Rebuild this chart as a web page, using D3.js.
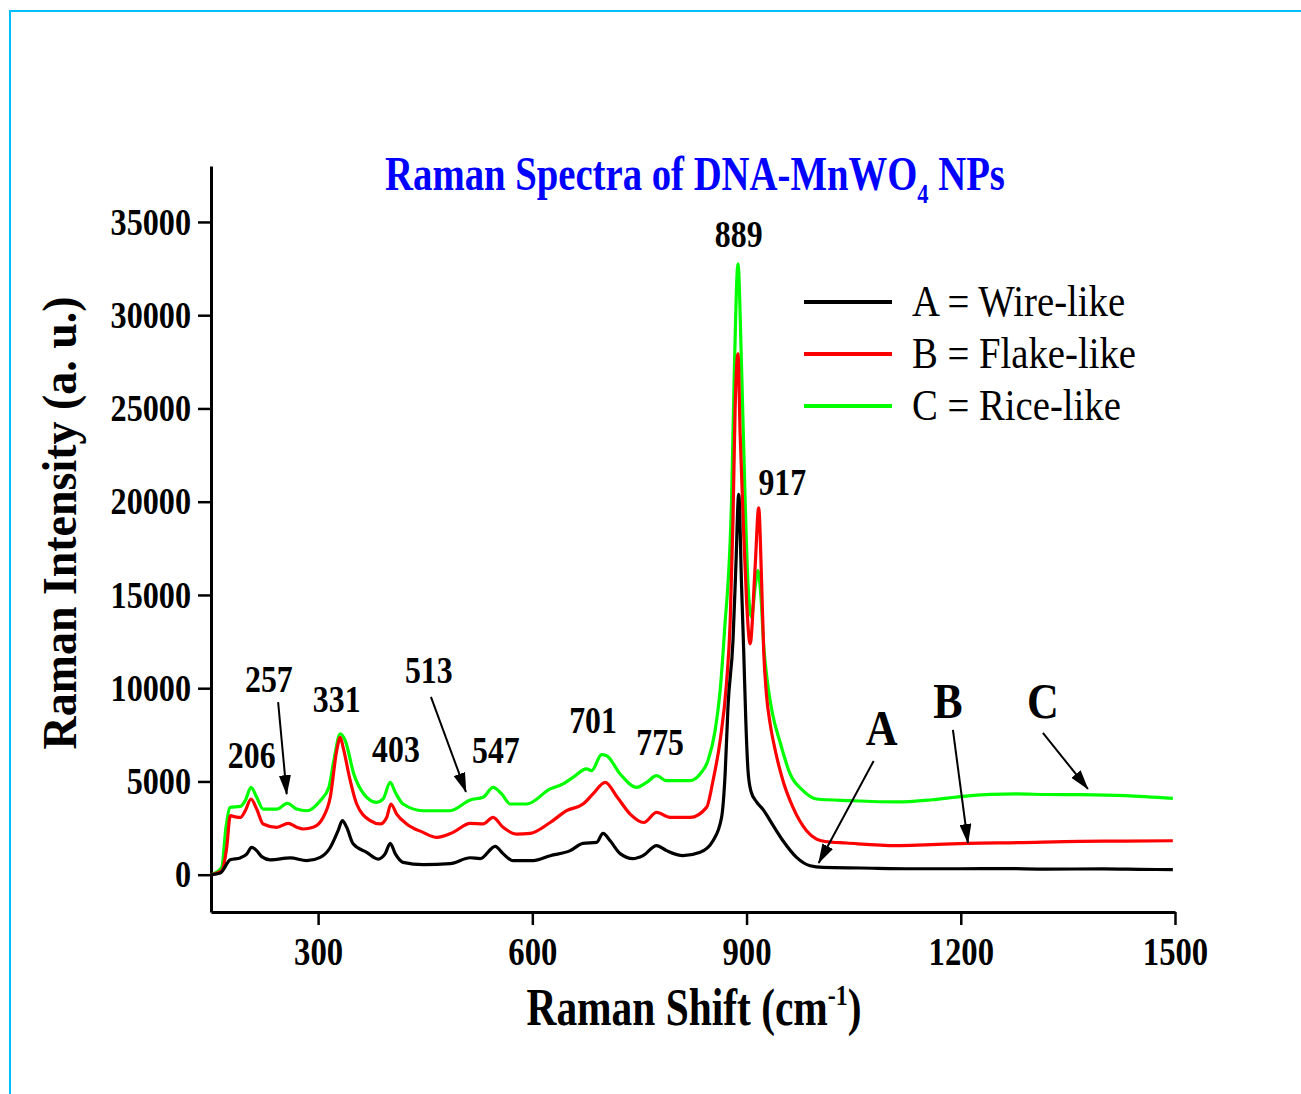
<!DOCTYPE html>
<html>
<meta charset="utf-8">
<head>
  <title>Raman Spectra of DNA-MnWO4 NPs</title>
</head>

<style>
body {
  margin: 0;
  background: #fff;
}
text {
  font-family: "Liberation Serif", "Times New Roman", serif;
  fill: #000;
}
.axis path, .axis line {
  stroke: #000;
}
</style>

<body>
  <svg width="1301" height="1094"></svg>

  <script src="https://cdnjs.cloudflare.com/ajax/libs/d3/7.8.5/d3.min.js"></script>

  <script>
// spectra: [Raman shift (cm-1), intensity (a.u.)]
var specA = [[150,0],[163,90],[177,800],[191,900],[200,1100],[207,1460],[214,1290],[221,970],[233,800],[261,900],[284,750],
  [303,930],[317,1460],[328,2360],[334,2900],[340,2540],[349,1660],[368,1200],[384,840],[394,1130],[401,1680],[408,1130],
  [419,660],[447,540],[485,590],[513,910],[527,860],[548,1520],[559,1130],[573,750],[601,750],[625,1020],[653,1290],
  [671,1680],[690,1730],[699,2220],[709,1820],[723,1130],[741,860],[755,1020],[774,1560],[788,1290],[811,1020],[835,1200],
  [853,1820],[865,3070],[870,5400],[874,9000],[881,12550],[885,16500],[889,20400],[893,15500],[896,12000],[899,8200],
  [902,5600],[906,4500],[914,3900],[924,3450],[933,2900],[951,1820],[970,930],[989,480],[1007,390],[1060,360],[1133,320],
  [1200,320],[1260,330],[1320,300],[1400,310],[1450,290],[1497,270]]

var specB = [[150,0],[165,210],[172,1460],[177,3170],[184,3100],[191,3070],[198,3430],[206,4060],[214,3520],[223,2720],
  [242,2540],[258,2750],[270,2550],[279,2450],[293,2540],[307,3070],[317,4150],[326,6650],[331,7370],[335,6830],[345,5040],
  [354,3790],[373,2900],[387,2720],[396,3070],[402,3790],[410,3250],[424,2720],[447,2270],[466,2000],[489,2270],[513,2750],
  [531,2720],[545,3070],[559,2540],[578,2180],[597,2220],[625,2800],[648,3430],[671,3790],[685,4330],[702,4950],[719,4150],
  [737,3250],[756,2800],[774,3340],[793,3070],[821,3070],[844,3610],[853,5040],[863,7190],[872,10300],[877,13500],
  [881,19000],[884,25000],[888,27930],[891,23650],[896,18300],[900,14700],[905,12380],[912,16490],[917,19670],[921,15800],
  [924,12000],[928,9600],[933,8100],[940,6700],[951,5040],[965,3610],[984,2360],[998,1910],[1010,1780],[1040,1700],
  [1110,1560],[1150,1600],[1210,1680],[1280,1720],[1367,1790],[1430,1800],[1497,1820]]

var specC = [[150,0],[165,390],[171,2540],[177,3610],[191,3660],[198,3970],[206,4680],[214,4150],[223,3520],[242,3520],
  [257,3830],[270,3520],[284,3430],[303,3970],[315,4680],[322,6120],[331,7550],[338,7190],[350,5400],[364,4330],[382,3880],
  [391,4060],[401,4950],[408,4420],[419,3790],[447,3430],[485,3430],[513,4010],[531,4150],[545,4680],[557,4330],[569,3790],
  [592,3790],[625,4600],[643,4870],[657,5220],[676,5670],[683,5580],[697,6440],[704,6380],[723,5400],[746,4680],[760,4950],
  [774,5310],[788,5040],[821,5040],[835,5400],[846,6120],[856,7730],[863,9870],[869,13000],[879,20070],[883,27220],
  [888,32760],[893,27220],[898,20070],[902,15600],[907,13800],[912,15410],[916,16310],[920,15000],[924,12300],[929,10400],
  [936,8700],[947,7100],[961,5400],[979,4510],[998,4060],[1045,3970],[1110,3900],[1160,4020],[1203,4200],[1278,4330],
  [1320,4300],[1367,4290],[1430,4240],[1497,4090]]

var seriesNames = ['A = Wire-like', 'B = Flake-like', 'C = Rice-like']
var seriesColors = ['#000000', '#ff0000', '#00ff00']

var xTicks = [300, 600, 900, 1200, 1500]
var xMinor = [150, 450, 750, 1050, 1350]
var yTicks = [0, 5000, 10000, 15000, 20000, 25000, 30000, 35000]
var yMinor = [2500, 7500, 12500, 17500, 22500, 27500, 32500, 37500]

// peak labels [text, shift, intensity of baseline]
var peakLabels = [['206',207,5720],['257',231,9800],['331',326,8720],['403',409,6040],['513',455,10280],
  ['547',549,5990],['701',685,7600],['775',779,6420],['889',889,33660],['917',950,20360]]
// curve letters and their arrows [text, shift, intensity]
var curveLetters = [['A',1089,6960],['B',1182,8400],['C',1315,8400]]
var arrows = [[244,9250,256,4320],[458,9530,507,4440],[1078,6100,1001,630],[1189,7760,1210,1700],[1315,7600,1378,4600]]

var svg = d3.select('svg')

var x = d3.scaleLinear().domain([150, 1500]).range([211, 1175])
var y = d3.scaleLinear().domain([-2000, 38000]).range([912, 166])

// light blue frame around the figure
svg.append('path')
  .attr('d', 'M10,1094 L10,11 L1301,11')
  .attr('fill', 'none')
  .attr('stroke', '#00bfff')
  .attr('stroke-width', 2)

function addText(parent, str, px, py, size, weight, sx) {
  return parent.append('text')
    .attr('transform', 'translate(' + px + ',' + py + ') scale(' + sx + ',1)')
    .attr('text-anchor', 'middle')
    .attr('font-size', size)
    .attr('font-weight', weight)
    .text(str)
}

// squeeze a text horizontally so it spans the given width
function fit(t, px, py, w, rot) {
  var sx = w / t.node().getBBox().width
  t.attr('transform', 'translate(' + px + ',' + py + ')' + (rot ? ' rotate(' + rot + ')' : '') + ' scale(' + sx + ',1)')
}

// axes
var gx = svg.append('g').attr('class', 'axis').attr('transform', 'translate(0,912)')
gx.call(d3.axisBottom(x).tickValues(xMinor).tickSize(8).tickSizeOuter(0).tickFormat(''))
gx.call(d3.axisBottom(x).tickValues(xTicks).tickSize(13).tickSizeOuter(0).tickFormat(d3.format('d')))
gx.selectAll('line').attr('stroke-width', 2.5)
gx.select('.domain').attr('stroke-width', 3)
gx.selectAll('text')
  .attr('y', 0).attr('dy', 0)
  .attr('transform', 'translate(0,53) scale(0.84,1)')
  .attr('font-size', 39).attr('font-weight', 'bold')
  .attr('font-family', '"Liberation Serif", serif')

var gy = svg.append('g').attr('class', 'axis').attr('transform', 'translate(211,0)')
gy.call(d3.axisLeft(y).tickValues(yMinor).tickSize(8).tickSizeOuter(0).tickFormat(''))
gy.call(d3.axisLeft(y).tickValues(yTicks).tickSize(13).tickSizeOuter(0).tickFormat(d3.format('d')))
gy.selectAll('line').attr('stroke-width', 2.5)
gy.select('.domain').attr('stroke-width', 3)
gy.selectAll('text')
  .attr('x', 0).attr('dy', '0.33em')
  .attr('transform', 'translate(-20,0) scale(0.87,1)')
  .attr('font-size', 37).attr('font-weight', 'bold')
  .attr('font-family', '"Liberation Serif", serif')

// spectra
var line = d3.line()
  .x(function(d) { return x(d[0]) })
  .y(function(d) { return y(d[1]) })
  .curve(d3.curveMonotoneX)

var specs = [specA, specB, specC]
svg.append('g')
  .selectAll('path')
  .data([2, 1, 0])
  .enter()
  .append('path')
  .attr('d', function(i) { return line(specs[i]) })
  .attr('fill', 'none')
  .attr('stroke', function(i) { return seriesColors[i] })
  .attr('stroke-width', 3.2)
  .attr('stroke-linejoin', 'round')

// title
var title = svg.append('text')
  .attr('text-anchor', 'middle')
  .attr('font-size', 48)
  .attr('font-weight', 'bold')
  .style('fill', '#0000ff')
title.append('tspan').text('Raman Spectra of DNA-MnWO')
title.append('tspan').attr('font-size', 28).attr('dy', 13).text('4')
title.append('tspan').attr('dy', -13).text(' NPs')
fit(title, 695, 190, 620)

// axis titles
var ylab = svg.append('text')
  .attr('text-anchor', 'middle')
  .attr('font-size', 49)
  .attr('font-weight', 'bold')
  .text('Raman Intensity (a. u.)')
fit(ylab, 76, 523, 453, -90)

var xlab = svg.append('text')
  .attr('text-anchor', 'middle')
  .attr('font-size', 52)
  .attr('font-weight', 'bold')
xlab.append('tspan').text('Raman Shift (cm')
xlab.append('tspan').attr('font-size', 30).attr('dy', -20).text('-1')
xlab.append('tspan').attr('dy', 20).text(')')
fit(xlab, 694, 1025, 335)

// peak labels
peakLabels.forEach(function(p) {
  addText(svg, p[0], x(p[1]), y(p[2]), 37, 'bold', 0.86)
})
curveLetters.forEach(function(p) {
  addText(svg, p[0], x(p[1]), y(p[2]), 50, 'bold', 0.88)
})

// arrows
svg.append('defs').append('marker')
  .attr('id', 'head')
  .attr('markerUnits', 'userSpaceOnUse')
  .attr('markerWidth', 20).attr('markerHeight', 12)
  .attr('refX', 19).attr('refY', 6)
  .attr('orient', 'auto')
  .append('path')
  .attr('d', 'M0,0 L20,6 L0,12 Z')
  .attr('fill', '#000')

svg.append('g')
  .selectAll('line')
  .data(arrows)
  .enter()
  .append('line')
  .attr('x1', function(d) { return x(d[0]) })
  .attr('y1', function(d) { return y(d[1]) })
  .attr('x2', function(d) { return x(d[2]) })
  .attr('y2', function(d) { return y(d[3]) })
  .attr('stroke', '#000')
  .attr('stroke-width', 2)
  .attr('marker-end', 'url(#head)')

// legend
var legend = svg.append('g')
seriesNames.forEach(function(name, i) {
  legend.append('line')
    .attr('x1', 804).attr('x2', 892)
    .attr('y1', 302 + i * 52).attr('y2', 302 + i * 52)
    .attr('stroke', seriesColors[i])
    .attr('stroke-width', 4)
  legend.append('text')
    .attr('transform', 'translate(912,' + (316 + i * 52) + ') scale(0.88,1)')
    .attr('font-size', 44)
    .text(name)
})
  </script>
</body>
</html>
